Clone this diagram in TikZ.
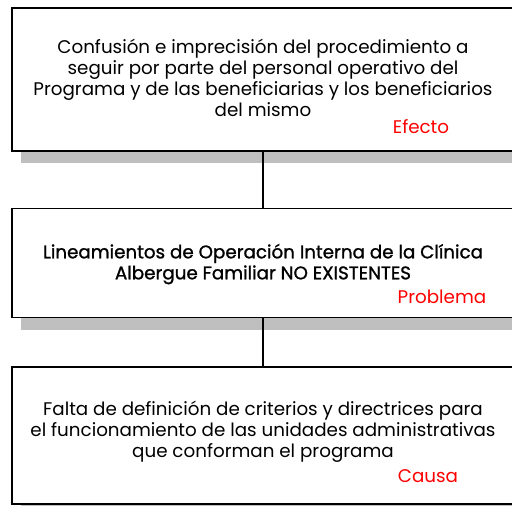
\documentclass[tikz,border=0pt]{standalone}
\usepackage{fontspec}
\setmainfont{Poppins}
\newfontfamily\medio[FakeBold=1.2]{Poppins}
\usetikzlibrary{positioning,shadows}

\definecolor{gris}{RGB}{191,191,191}
\definecolor{rojo}{RGB}{255,0,0}

\tikzset{
  caja/.style={draw, line width=1.6pt, fill=white, inner sep=0pt,
    minimum width=502pt, align=center,
    drop shadow={shadow xshift=9pt, shadow yshift=-12pt, fill=gris, opacity=1}},
  etiqueta/.style={text=rojo, inner sep=0pt},
}

\begin{document}
\begin{tikzpicture}[x=1pt,y=1pt]
  \useasboundingbox (0,0) rectangle (512,-506);
  \clip (0,0) rectangle (512,-506);
  \fontsize{18.3}{21}\selectfont
  % Three boxes: effect, problem and cause
  \node[caja, minimum height=143pt, text depth=4pt] (efecto) at (263,-79.5)
    {Confusión e imprecisión del procedimiento a\\
     seguir por parte del personal operativo del\\
     Programa y de las beneficiarias y los beneficiarios\\
     del mismo};
  \node[caja, minimum height=109pt, text depth=3pt, below=56pt of efecto] (problema)
    {\medio Lineamientos de Operación Interna de la Clínica\\
     \medio Albergue Familiar NO EXISTENTES};
  \node[caja, minimum height=137pt, text depth=12pt, below=48pt of problema] (causa)
    {Falta de definición de criterios y directrices para\\
     el funcionamiento de las unidades administrativas\\
     que conforman el programa};

  % Red labels
  \node[etiqueta] (etqefecto) at (421,-127) {Efecto};
  \node[etiqueta] (etqproblema) at (442,-297) {Problema};
  \node[etiqueta] (etqcausa) at (428,-476) {Causa};

  % Connect the boxes
  \draw[line width=1.6pt] (efecto) -- (problema);
  \draw[line width=1.6pt] (problema) -- (causa);
\end{tikzpicture}
\end{document}
